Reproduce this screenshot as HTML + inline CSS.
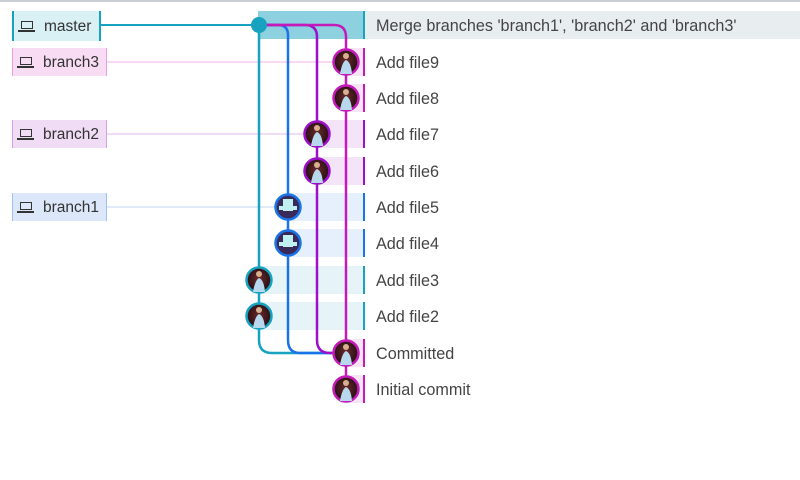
<!DOCTYPE html>
<html><head><meta charset="utf-8"><style>
body{margin:0;width:800px;height:480px;background:#fff;font-family:"Liberation Sans",sans-serif;position:relative;overflow:hidden}
.top{position:absolute;left:0;top:0;width:800px;height:2px;background:#c8ced4}
.lbl{position:absolute;left:12px;height:28px;line-height:29px;font-size:15.5px;color:#333;box-sizing:border-box;padding-left:30px}
.ic{position:absolute;left:7px;top:9px;width:12px;height:8px;border:1.5px solid #333;box-sizing:border-box}
.ic:after{content:"";position:absolute;left:-4px;top:8px;width:17px;height:2px;background:#333}
.row{position:absolute;height:28px;box-sizing:border-box}
.msg{position:absolute;left:376px;font-size:16.2px;color:#444;height:28px;line-height:30px}
svg{position:absolute;left:0;top:0}
</style></head><body>
<div class="top"></div>
<div class="row" style="left:258px;top:11px;width:107px;background:#8dd0e0;border-right:2px solid #17a2c0"></div>
<div class="row" style="left:365px;top:11px;width:435px;background:#e8edf0"></div>
<div class="row" style="left:346px;top:48px;width:19px;background:#f7e4f5;border-right:2px solid #c51aba"></div>
<div class="row" style="left:346px;top:84px;width:19px;background:#f7e4f5;border-right:2px solid #c51aba"></div>
<div class="row" style="left:317px;top:120px;width:48px;background:#f3e4f8;border-right:2px solid #9b10c8"></div>
<div class="row" style="left:317px;top:157px;width:48px;background:#f3e4f8;border-right:2px solid #9b10c8"></div>
<div class="row" style="left:288px;top:193px;width:77px;background:#e6f0fd;border-right:2px solid #1a73e8"></div>
<div class="row" style="left:288px;top:229px;width:77px;background:#e6f0fd;border-right:2px solid #1a73e8"></div>
<div class="row" style="left:259px;top:266px;width:106px;background:#e6f4f8;border-right:2px solid #17a2c0"></div>
<div class="row" style="left:259px;top:302px;width:106px;background:#e6f4f8;border-right:2px solid #17a2c0"></div>
<div class="row" style="left:346px;top:339px;width:19px;background:#f7e4f5;border-right:2px solid #c51aba"></div>
<div class="row" style="left:346px;top:375px;width:19px;background:#f7e4f5;border-right:2px solid #c51aba"></div>
<div class="lbl" style="top:11px;width:89px;height:30px;line-height:31px;background:#d9f0f5;border-left:2px solid #17a2c0;border-right:2px solid #17a2c0"><span class="ic" style="top:10px"></span>master</div>
<div class="lbl" style="top:48px;width:95px;background:#f7dcf3;border-left:1px solid #e8a0e0;border-right:1px solid #e8a0e0"><span class="ic"></span>branch3</div>
<div class="lbl" style="top:120px;width:95px;background:#f0dcf4;border-left:1px solid #d8a0e8;border-right:1px solid #d8a0e8"><span class="ic"></span>branch2</div>
<div class="lbl" style="top:193px;width:95px;background:#dce8fa;border-left:1px solid #a0c0f0;border-right:1px solid #a0c0f0"><span class="ic"></span>branch1</div>
<svg width="800" height="480" fill="none">
<line x1="100" y1="25" x2="259" y2="25" stroke="#17a2c0" stroke-width="2"/>
<line x1="107" y1="62" x2="346" y2="62" stroke="#f0b0ea" stroke-width="1"/>
<line x1="107" y1="134" x2="317" y2="134" stroke="#e0b8ea" stroke-width="1"/>
<line x1="107" y1="207" x2="288" y2="207" stroke="#c0d4f0" stroke-width="1"/>
<path d="M259 25 V340 Q259 353 272 353 H346" stroke="#17a2c0" stroke-width="2.5"/>
<path d="M259 25 H278 Q288 25 288 35 V340 Q288 353 300 353 H346" stroke="#1a73e8" stroke-width="2.5"/>
<path d="M259 25 H305 Q317 25 317 37 V340 Q317 353 330 353 H346" stroke="#9b10c8" stroke-width="2.5"/>
<path d="M259 25 H334 Q346 25 346 37 V389" stroke="#c51aba" stroke-width="2.5"/>
<circle cx="259" cy="25" r="8" fill="#17a2c0"/>
<defs><radialGradient id="g" cx="50%" cy="45%" r="60%"><stop offset="0" stop-color="#6a2a2a"/><stop offset="1" stop-color="#1a0a10"/></radialGradient></defs>
<g stroke-width="2.5">
<g id="a1"><circle cx="346" cy="62" r="12.5" fill="url(#g)" stroke="#c51aba"/><path d="M340 74 Q342 62 346 60 Q351 62 352 74Z" fill="#b8d8ee" stroke="none"/><circle cx="346" cy="56" r="3" fill="#d8b090" stroke="none"/></g>
<use href="#a1" y="36"/>
<g><circle cx="317" cy="134" r="12.5" fill="url(#g)" stroke="#9b10c8"/><path d="M311 146 Q313 134 317 132 Q322 134 323 146Z" fill="#b8d8ee" stroke="none"/><circle cx="317" cy="128" r="3" fill="#d8b090" stroke="none"/></g>
<g><circle cx="317" cy="171" r="12.5" fill="url(#g)" stroke="#9b10c8"/><path d="M311 183 Q313 171 317 169 Q322 171 323 183Z" fill="#b8d8ee" stroke="none"/><circle cx="317" cy="165" r="3" fill="#d8b090" stroke="none"/></g>
<g><circle cx="288" cy="207" r="12.5" fill="#3a2a5a" stroke="#1a73e8"/><rect x="283" y="199" width="10" height="12" fill="#c0f0f0" stroke="none"/><rect x="279" y="206" width="18" height="4" fill="#c0f0f0" stroke="none"/></g>
<g><circle cx="288" cy="243" r="12.5" fill="#3a2a5a" stroke="#1a73e8"/><rect x="283" y="235" width="10" height="12" fill="#c0f0f0" stroke="none"/><rect x="279" y="242" width="18" height="4" fill="#c0f0f0" stroke="none"/></g>
<g><circle cx="259" cy="280" r="12.5" fill="url(#g)" stroke="#17a2c0"/><path d="M253 292 Q255 280 259 278 Q264 280 265 292Z" fill="#b8d8ee" stroke="none"/><circle cx="259" cy="274" r="3" fill="#d8b090" stroke="none"/></g>
<g><circle cx="259" cy="316" r="12.5" fill="url(#g)" stroke="#17a2c0"/><path d="M253 328 Q255 316 259 314 Q264 316 265 328Z" fill="#b8d8ee" stroke="none"/><circle cx="259" cy="310" r="3" fill="#d8b090" stroke="none"/></g>
<use href="#a1" y="291"/>
<use href="#a1" y="327"/>
</g>
</svg>
<div class="msg" style="top:11px">Merge branches 'branch1', 'branch2' and 'branch3'</div>
<div class="msg" style="top:48px">Add file9</div>
<div class="msg" style="top:84px">Add file8</div>
<div class="msg" style="top:120px">Add file7</div>
<div class="msg" style="top:157px">Add file6</div>
<div class="msg" style="top:193px">Add file5</div>
<div class="msg" style="top:229px">Add file4</div>
<div class="msg" style="top:266px">Add file3</div>
<div class="msg" style="top:302px">Add file2</div>
<div class="msg" style="top:339px">Committed</div>
<div class="msg" style="top:375px">Initial commit</div>
</body></html>
